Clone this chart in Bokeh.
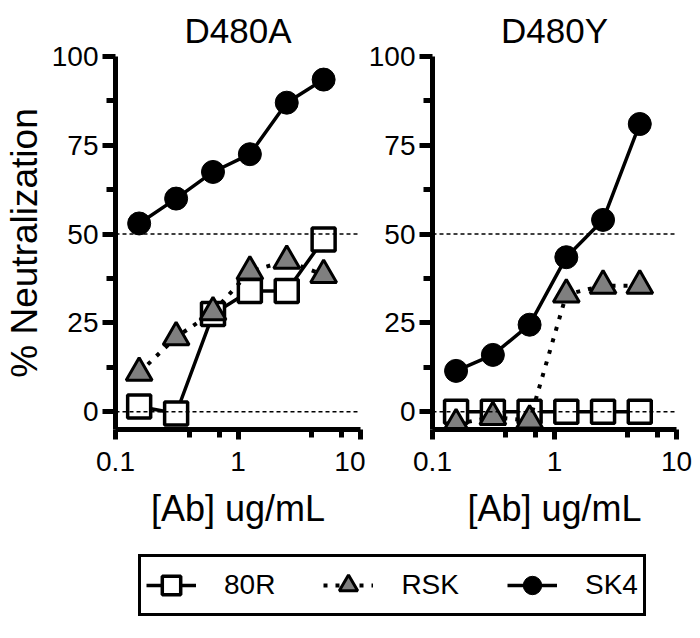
from bokeh.plotting import figure
from bokeh.layouts import column, row
from bokeh.models import (FixedTicker, Span, Legend, LegendItem, CustomJSTickFormatter)
from bokeh.embed import file_html
from bokeh.resources import INLINE

# ---- data ----
conc = [0.156, 0.3125, 0.625, 1.25, 2.5, 5.0]
a_80r = [1.5, -0.5, 27.5, 34, 34, 48.5]
a_rsk = [11, 21, 28, 39.5, 42.5, 38.5]
a_sk4 = [53, 60, 67.5, 72.5, 87, 93.5]
y_80r = [0, 0, 0, 0, 0, 0]
y_rsk = [-3.5, -1.5, -2.5, 33, 35.5, 35.5]
y_sk4 = [11.5, 16, 24.5, 43.5, 54, 81]
panels = ["D480A", "D480Y"]
series = ["80R", "RSK", "SK4"]
y_major = [0, 25, 50, 75, 100]
y_minor = [12.5, 37.5, 62.5, 87.5]
x_major = [0.1, 1, 10]
x_minor = [0.4, 0.7, 4, 7]
ref_lines = [50, 0]

FONT = "Liberation Sans"
GRAY = "#7f7f7f"
FRAME_H = 373
P1 = dict(left=107, fw=245, right=5)
P2 = dict(left=66, fw=244, right=17)


def draw_series(p, x, y80, yrsk, ysk4):
    l1 = p.line(x, y80, line_color="black", line_width=3.5)
    m1 = p.scatter(x, y80, marker="square", size=23, fill_color="white",
                   line_color="black", line_width=3.5)
    l2 = p.line(x, yrsk, line_color="black", line_width=4, line_dash="4 8")
    m2 = p.scatter(x, yrsk, marker="triangle", size=26, fill_color=GRAY,
                   line_color="black", line_width=3)
    l3 = p.line(x, ysk4, line_color="black", line_width=3.5)
    m3 = p.scatter(x, ysk4, marker="circle", size=23, fill_color="black",
                   line_color="black", line_width=1)
    return [(l1, m1), (l2, m2), (l3, m3)]


def make_panel(title, y80, yrsk, ysk4, cfg, ylabel=None):
    p = figure(title=title, x_axis_type="log", x_range=(0.1, 10), y_range=(-5, 100),
               frame_width=cfg["fw"], frame_height=FRAME_H, output_backend="svg",
               toolbar_location=None, min_border_left=cfg["left"],
               min_border_right=cfg["right"], min_border_top=56, min_border_bottom=5)
    p.grid.visible = False
    p.outline_line_color = None
    p.title.align = "center"
    p.title.text_font = FONT
    p.title.text_font_size = "35px"
    p.title.text_font_style = "normal"
    p.title.text_color = "black"
    p.title.standoff = 14

    for loc in ref_lines:
        p.add_layout(Span(location=loc, dimension="width", line_color="black",
                          line_width=1.5, line_dash="4 3"))

    draw_series(p, conc, y80, yrsk, ysk4)

    for ax in (p.xaxis[0], p.yaxis[0]):
        ax.axis_line_width = 5
        ax.axis_line_color = "black"
        ax.major_tick_line_width = 5
        ax.minor_tick_line_width = 5
        ax.major_tick_in = 0
        ax.minor_tick_in = 0
        ax.major_label_text_font = FONT
        ax.major_label_text_font_size = "28px"
        ax.major_label_text_color = "black"
        ax.axis_label_text_font = FONT
        ax.axis_label_text_font_style = "normal"
        ax.axis_label_text_color = "black"
    p.xaxis.ticker = FixedTicker(ticks=x_major, minor_ticks=x_minor)
    p.xaxis.formatter = CustomJSTickFormatter(code="return String(tick)")
    p.xaxis.major_tick_out = 10
    p.xaxis.minor_tick_out = 8
    p.xaxis.major_label_standoff = 12
    p.xaxis.axis_label = "[Ab] ug/mL"
    p.xaxis.axis_label_text_font_size = "36px"
    p.xaxis.axis_label_standoff = 14

    p.yaxis.ticker = FixedTicker(ticks=y_major, minor_ticks=y_minor)
    p.yaxis.major_tick_out = 13
    p.yaxis.minor_tick_out = 9
    p.yaxis.major_label_standoff = 4
    if ylabel:
        p.yaxis.axis_label = ylabel
        p.yaxis.axis_label_text_font_size = "37px"
        p.yaxis.axis_label_standoff = 4
    return p


p1 = make_panel(panels[0], a_80r, a_rsk, a_sk4, P1, "% Neutralization")
p2 = make_panel(panels[1], y_80r, y_rsk, y_sk4, P2)

# legend figure (its renderers hold the series but sit far outside its ranges)
p3 = figure(width=684, height=88, x_range=(0, 1), y_range=(1000, 1001),
            x_axis_location=None, y_axis_location=None, output_backend="svg",
            toolbar_location=None, min_border=0)
p3.grid.visible = False
p3.outline_line_color = None
pairs = draw_series(p3, conc, a_80r, a_rsk, a_sk4)
items = [LegendItem(label=s, renderers=list(rr)) for s, rr in zip(series, pairs)]
leg = Legend(items=items, orientation="horizontal", location=(138, 3),
             border_line_color="black", border_line_width=3, border_line_alpha=1,
             glyph_width=50, glyph_height=46, label_standoff=28, spacing=48,
             padding=5, margin=0,
             label_text_font=FONT, label_text_font_size="28px",
             label_text_color="black", background_fill_alpha=1)
p3.add_layout(leg, "center")

layout = column(row(p1, p2), p3)
open("out.html", "w").write(file_html(layout, INLINE))
